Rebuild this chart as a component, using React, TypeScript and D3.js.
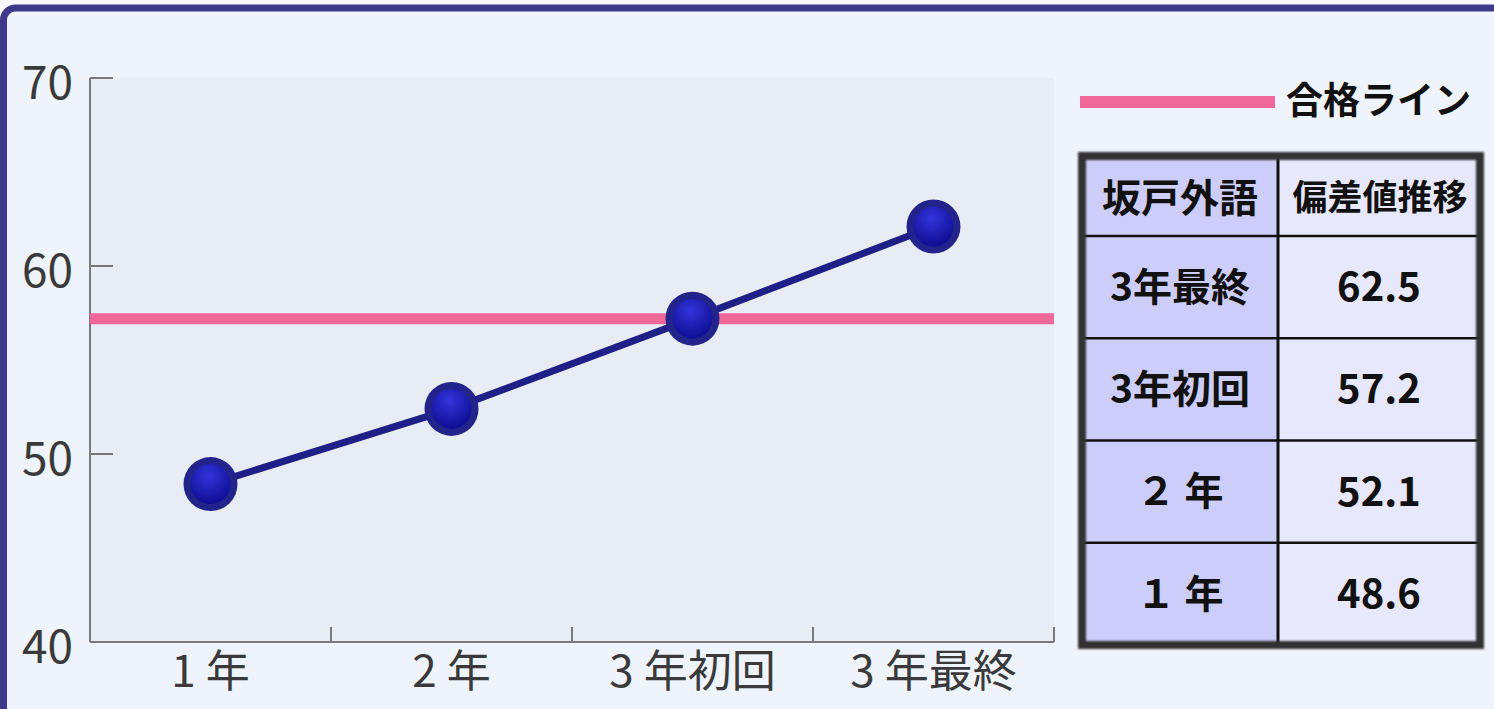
import React from "react";
import * as d3 from "d3";

const categories: string[] = ["1 年", "2 年", "3 年初回", "3 年最終"];
const plotValues: number[] = [48.4, 52.4, 57.2, 62.1];
const yTicks: number[] = [40, 50, 60, 70];
const passLine: number = 57.2;
const legendLabel = "合格ライン";
const tableHeader: string[] = ["坂戸外語", "偏差値推移"];
const tableRows: string[] = ["3年最終", "3年初回", "２ 年", "１ 年"];
const tableValues: string[] = ["62.5", "57.2", "52.1", "48.6"];

const W = 1494;
const H = 709;
const plot = { left: 90, right: 1054, top: 78, bottom: 642 };
const FONT = "'Noto Sans CJK JP', 'Noto Sans', sans-serif";

export default function App() {
  const x = d3.scaleBand().domain(categories).range([plot.left, plot.right]);
  const y = d3.scaleLinear().domain([40, 70]).range([plot.bottom, plot.top]);
  const cx = (i: number) => (x(categories[i]) as number) + x.bandwidth() / 2;
  const line = d3
    .line<number>()
    .x((_, i) => cx(i))
    .y((d) => y(d));

  // table layout
  const tb = { left: 1082, right: 1480, top: 156, bottom: 645, split: 1278, headH: 80 };
  const rowH = (tb.bottom - tb.top - tb.headH) / tableRows.length;

  return (
    <svg
      width={W}
      height={H}
      style={{ position: "absolute", left: 0, top: 0, display: "block" }}
      fontFamily={FONT}
    >
      <defs>
        <radialGradient id="dot" cx="0.45" cy="0.3" r="0.8">
          <stop offset="0" stopColor="#3434dc" />
          <stop offset="1" stopColor="#080888" />
        </radialGradient>
        <filter id="blur" x="-5%" y="-5%" width="110%" height="110%">
          <feGaussianBlur stdDeviation="1.2" />
        </filter>
      </defs>
      <rect x={0} y={0} width={W} height={H} fill="#f7f9fe" />
      <rect x={3.5} y={8} width={W + 40} height={H + 40} rx={12} fill="#eff3fc" stroke="#3d3a8b" strokeWidth={7} />

      {/* plot area */}
      <rect x={plot.left} y={plot.top} width={plot.right - plot.left} height={plot.bottom - plot.top} fill="#e8ecf5" />

      {/* y axis */}
      <line x1={plot.left} x2={plot.left} y1={plot.top} y2={plot.bottom} stroke="#7a7a7a" strokeWidth={2} />
      {yTicks.map((t) => (
        <g key={t}>
          <line x1={plot.left} x2={plot.left + 23} y1={y(t)} y2={y(t)} stroke="#7a7a7a" strokeWidth={2} />
          <text x={73} y={y(t) + 5} dy="0.35em" textAnchor="end" fontSize={46} fill="#3a3a3a">
            {t}
          </text>
        </g>
      ))}

      {/* x axis */}
      <line x1={plot.left} x2={plot.right} y1={plot.bottom} y2={plot.bottom} stroke="#7a7a7a" strokeWidth={2} />
      {categories.map((c) => (
        <g key={c}>
          <line
            x1={(x(c) as number) + x.bandwidth()}
            x2={(x(c) as number) + x.bandwidth()}
            y1={plot.bottom}
            y2={plot.bottom - 15}
            stroke="#7a7a7a"
            strokeWidth={2}
          />
          <text
            x={(x(c) as number) + x.bandwidth() / 2}
            y={plot.bottom + 30}
            dy="0.35em"
            textAnchor="middle"
            fontSize={44}
            fill="#3a3a3a"
          >
            {c}
          </text>
        </g>
      ))}

      {/* pass line */}
      <line x1={plot.left} x2={plot.right} y1={y(passLine)} y2={y(passLine)} stroke="#f0679a" strokeWidth={11} />

      {/* series */}
      <path d={line(plotValues) ?? ""} fill="none" stroke="#1f1f88" strokeWidth={7} />
      {plotValues.map((v, i) => (
        <g key={i}>
          <circle cx={cx(i)} cy={y(v)} r={27} fill="#23238c" />
          <circle cx={cx(i)} cy={y(v)} r={20} fill="url(#dot)" />
        </g>
      ))}

      {/* legend */}
      <line x1={1080} x2={1275} y1={102} y2={102} stroke="#f0679a" strokeWidth={12} />
      <text x={1286} y={101} dy="0.35em" fontSize={37} fontWeight="bold" fill="#111">
        {legendLabel}
      </text>

      {/* table */}
      <g>
        <rect x={tb.left} y={tb.top} width={tb.split - tb.left} height={tb.bottom - tb.top} fill="#cdcdfa" />
        <rect x={tb.split} y={tb.top} width={tb.right - tb.split} height={tb.bottom - tb.top} fill="#e8e8fc" />
        <line x1={tb.split} x2={tb.split} y1={tb.top} y2={tb.bottom} stroke="#111" strokeWidth={3} />
        {tableRows.map((_, i) => (
          <line
            key={i}
            x1={tb.left}
            x2={tb.right}
            y1={tb.top + tb.headH + i * rowH}
            y2={tb.top + tb.headH + i * rowH}
            stroke="#111"
            strokeWidth={2.5}
          />
        ))}
        <rect
          x={tb.left}
          y={tb.top}
          width={tb.right - tb.left}
          height={tb.bottom - tb.top}
          fill="none"
          stroke="#333"
          strokeWidth={8}
          filter="url(#blur)"
        />
        <text x={(tb.left + tb.split) / 2} y={tb.top + tb.headH / 2 + 2} dy="0.35em" textAnchor="middle" fontSize={39} fontWeight="bold" fill="#111">
          {tableHeader[0]}
        </text>
        <text x={(tb.split + tb.right) / 2 + 1} y={tb.top + tb.headH / 2 + 2} dy="0.35em" textAnchor="middle" fontSize={35} fontWeight="bold" fill="#111">
          {tableHeader[1]}
        </text>
        {tableRows.map((r, i) => (
          <g key={r}>
            <text
              x={(tb.left + tb.split) / 2}
              y={tb.top + tb.headH + (i + 0.5) * rowH}
              dy="0.35em"
              textAnchor="middle"
              fontSize={39}
              fontWeight="bold"
              fill="#111"
            >
              {r}
            </text>
            <text
              x={(tb.split + tb.right) / 2}
              y={tb.top + tb.headH + (i + 0.5) * rowH}
              dy="0.35em"
              textAnchor="middle"
              fontSize={40}
              fontWeight="bold"
              fill="#111"
            >
              {tableValues[i]}
            </text>
          </g>
        ))}
      </g>
    </svg>
  );
}
